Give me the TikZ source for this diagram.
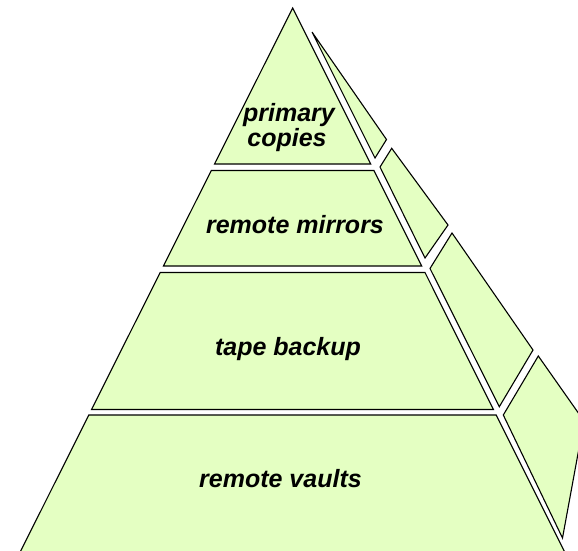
\documentclass[tikz,border=0pt]{standalone}
\usepackage{fontspec}
\setmainfont{Liberation Sans}
\definecolor{tierfill}{RGB}{228,255,194}
\tikzset{
  tier/.style={draw=black, fill=tierfill, line width=1.1pt, line join=miter},
  tierlabel/.style={font=\fontsize{25}{26}\selectfont\bfseries\itshape, text=black, anchor=base, inner sep=0pt}
}
\begin{document}
\begin{tikzpicture}[x=1pt,y=-1pt]
  \useasboundingbox (0,0) rectangle (578,550);
  \clip (0,0) rectangle (578,550);

  % front faces of the four tiers
  \path[tier] (292.7,8) -- (370.7,164) -- (214.5,164) -- cycle;
  \path[tier] (211.3,170.5) -- (373.9,170.5) -- (421.7,266) -- (163.4,266) -- cycle;
  \path[tier] (160.2,272.5) -- (425.0,272.5) -- (493.4,409.5) -- (91.5,409.5) -- cycle;
  \path[tier] (88.8,415) -- (496.2,415) -- (568.7,560) -- (16.2,560) -- cycle;

  % side faces of the four tiers
  \path[tier] (312,32) -- (386.5,139.5) -- (375,158) -- cycle;
  \path[tier] (380,167) -- (391.7,148.3) -- (448,225) -- (425,258) -- cycle;
  \path[tier] (430,268.5) -- (452,233) -- (533,350) -- (499.3,406.7) -- cycle;
  \path[tier] (503.3,415) -- (538.3,356) -- (584,421) -- (562.5,538) -- cycle;

  % tier labels
  \node[tierlabel] (primary) at (289,121.5) {primary};
  \node[tierlabel] (copies) at (287,146.5) {copies};
  \node[tierlabel] (mirrors) at (295,233) {remote mirrors};
  \node[tierlabel] (tape) at (288,355) {tape backup};
  \node[tierlabel] (vaults) at (280.5,487) {remote vaults};
\end{tikzpicture}
\end{document}
